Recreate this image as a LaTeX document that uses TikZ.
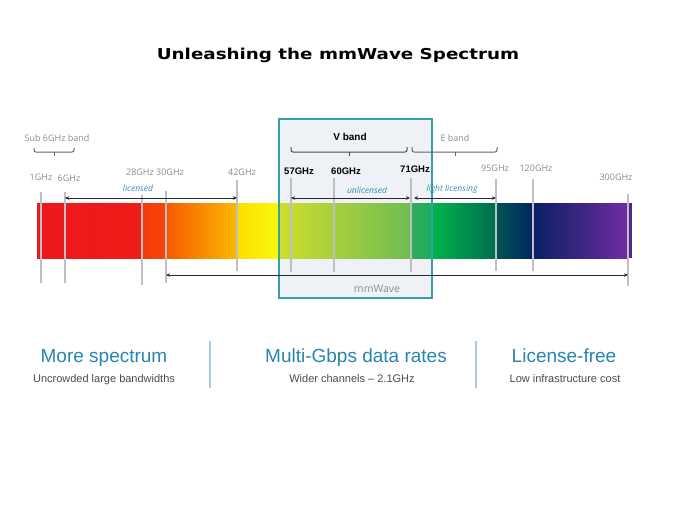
\documentclass[tikz,border=0pt]{standalone}
\usepackage{fontspec}
\setmainfont{Liberation Sans}
\newfontfamily\titlefont{DejaVu Sans}[FakeStretch=1.22]
\newfontfamily\segoe{Open Sans}
\usetikzlibrary{arrows.meta}
\definecolor{tickgray}{RGB}{190,190,196}
\definecolor{labgray}{RGB}{140,140,140}
\definecolor{headblue}{RGB}{40,132,180}
\definecolor{itblue}{RGB}{55,140,180}
\definecolor{boxfill}{RGB}{238,242,246}
\definecolor{boxline}{RGB}{55,158,165}
\definecolor{divblue}{RGB}{160,205,228}
\definecolor{arrowc}{RGB}{40,40,40}
\definecolor{c0}{RGB}{236,24,30}
\definecolor{c1}{RGB}{240,28,22}
\definecolor{c2}{RGB}{244,58,12}
\definecolor{c3}{RGB}{246,70,6}
\definecolor{c4}{RGB}{248,88,0}
\definecolor{c5}{RGB}{250,188,0}
\definecolor{c6}{RGB}{252,222,0}
\definecolor{c7}{RGB}{248,250,12}
\definecolor{c8}{RGB}{206,222,44}
\definecolor{c9}{RGB}{110,188,82}
\definecolor{c10}{RGB}{52,170,92}
\definecolor{c11}{RGB}{24,174,88}
\definecolor{c12}{RGB}{0,182,76}
\definecolor{c13}{RGB}{0,108,76}
\definecolor{c14}{RGB}{0,86,86}
\definecolor{c15}{RGB}{0,36,96}
\definecolor{c16}{RGB}{10,30,100}
\definecolor{c17}{RGB}{112,46,162}
\definecolor{c18}{RGB}{80,40,140}
\tikzset{
  vline/.style={draw=tickgray,line width=1.5pt},
  glab/.style={text=labgray,font=\segoe\fontsize{9}{10}\selectfont,inner sep=0pt},
  blab/.style={text=black,font=\bfseries\fontsize{9.5}{11}\selectfont,inner sep=0pt},
  itlab/.style={text=itblue,font=\segoe\itshape\fontsize{8.5}{10}\selectfont,inner sep=0pt},
  rangearrow/.style={draw=arrowc,line width=0.8pt,{Stealth[length=4pt,width=3.5pt]}-{Stealth[length=4pt,width=3.5pt]}},
  bracket/.style={draw=#1,line width=1pt,rounded corners=2pt},
  head/.style={text=headblue,font=\fontsize{19}{22}\selectfont,inner sep=0pt,anchor=base},
  sub/.style={text=black!70,font=\fontsize{11}{13}\selectfont,inner sep=0pt,anchor=base},
  divider/.style={draw=divblue,line width=1.2pt},
  seg/.style 2 args={left color=#1,right color=#2}
}
\begin{document}
\begin{tikzpicture}[x=1pt,y=-1pt]
\useasboundingbox[fill=white] (0,0) rectangle (675,506);
% title
\node[font=\titlefont\bfseries\fontsize{15}{18}\selectfont,inner sep=0pt,anchor=base] (title) at (338,59) {Unleashing the mmWave Spectrum};
% V band box fill
\fill[boxfill] (279,119) rectangle (432,298);
% spectrum bar segments
\shade[seg={c0}{c1}] (37,203) rectangle (142.5,258);
\shade[seg={c2}{c3}] (142,203) rectangle (166.5,258);
\shade[seg={c4}{c5}] (166,203) rectangle (237.5,258);
\shade[seg={c6}{c7}] (237,203) rectangle (279.5,258);
\shade[seg={c8}{c9}] (279,203) rectangle (411.5,258);
\shade[seg={c10}{c11}] (411,203) rectangle (432.5,258);
\shade[seg={c12}{c13}] (432,203) rectangle (496.5,258);
\shade[seg={c14}{c15}] (496,203) rectangle (533.5,258);
\shade[seg={c16}{c17}] (533,203) rectangle (628.5,258);
\fill[c18] (628,203) rectangle (632,258);
% V band box outline
\draw[boxline,line width=1.3pt] (279,119) rectangle (432,298);
% vertical frequency lines
\coordinate (f1t) at (41,192);   \coordinate (f1b) at (41,283);
\coordinate (f6t) at (65,192);   \coordinate (f6b) at (65,283);
\coordinate (f28t) at (142,195); \coordinate (f28b) at (142,285);
\coordinate (f30t) at (166,191); \coordinate (f30b) at (166,283);
\coordinate (f42t) at (237,180); \coordinate (f42b) at (237,271);
\coordinate (f57t) at (291,178); \coordinate (f57b) at (291,272);
\coordinate (f60t) at (334,178); \coordinate (f60b) at (334,272);
\coordinate (f71t) at (411,178); \coordinate (f71b) at (411,272);
\coordinate (f95t) at (496,179); \coordinate (f95b) at (496,271);
\coordinate (f120t) at (533,179);\coordinate (f120b) at (533,271);
\coordinate (f300t) at (628,194);\coordinate (f300b) at (628,286);
\foreach \f in {1,6,28,30,42,57,60,71,95,120,300}{\draw[vline] (f\f t) -- (f\f b);}
% frequency labels
\node[glab] (l1) at (41,177) {1GHz};
\node[glab] (l6) at (69,178) {6GHz};
\node[glab] (l2830) at (155,172) {28GHz 30GHz};
\node[glab] (l42) at (242,172) {42GHz};
\node[blab] (l57) at (299,171) {57GHz};
\node[blab] (l60) at (346,171) {60GHz};
\node[blab] (l71) at (415,169) {71GHz};
\node[glab] (l95) at (495,168) {95GHz};
\node[glab] (l120) at (536,168) {120GHz};
\node[glab] (l300) at (616,177) {300GHz};
% band labels and brackets
\node[glab] (sub6) at (57,138) {Sub 6GHz band};
\draw[bracket=black!60] (34,148) |- (74,152) -- (74,148);
\draw[black!60,line width=1pt] (54,152) -- (54,156);
\node[font=\bfseries\fontsize{10}{12}\selectfont,inner sep=0pt] (vband) at (350,137) {V band};
\draw[bracket=black!70] (291,147) |- (407,152) -- (407,147);
\draw[black!70,line width=1pt] (349,152) -- (349,156);
\node[glab] (eband) at (455,138) {E band};
\draw[bracket=black!60] (412,147) |- (497,152) -- (497,147);
\draw[black!60,line width=1pt] (455,152) -- (455,156);
% range arrows
\coordinate (a1) at (65,198);  \coordinate (a2) at (237,198);
\draw[rangearrow] (a1) -- (a2);
\node[itlab] (lic) at (138,188) {licensed};
\coordinate (u1) at (291,198); \coordinate (u2) at (410,198);
\draw[rangearrow] (u1) -- (u2);
\node[itlab] (unlic) at (367,190) {unlicensed};
\coordinate (e1) at (414,198); \coordinate (e2) at (496,198);
\draw[rangearrow] (e1) -- (e2);
\node[itlab] (light) at (452,189) {light licensing};
\coordinate (m1) at (166,275); \coordinate (m2) at (628,275);
\draw[rangearrow] (m1) -- (m2);
\node[glab,font=\segoe\fontsize{10.5}{12}\selectfont] (mmw) at (377,289) {mmWave};
% bottom benefits
\node[head] (h1) at (104,362) {More spectrum};
\node[sub] (s1) at (104,382) {Uncrowded large bandwidths};
\node[head] (h2) at (356,362) {Multi-Gbps data rates};
\node[sub] (s2) at (352,382) {Wider channels -- 2.1GHz};
\node[head] (h3) at (564,362) {License-free};
\node[sub] (s3) at (565,382) {Low infrastructure cost};
\coordinate (d1t) at (210,341); \coordinate (d1b) at (210,388);
\coordinate (d2t) at (476,341); \coordinate (d2b) at (476,388);
\draw[divider] (d1t) -- (d1b);
\draw[divider] (d2t) -- (d2b);
\end{tikzpicture}
\end{document}
